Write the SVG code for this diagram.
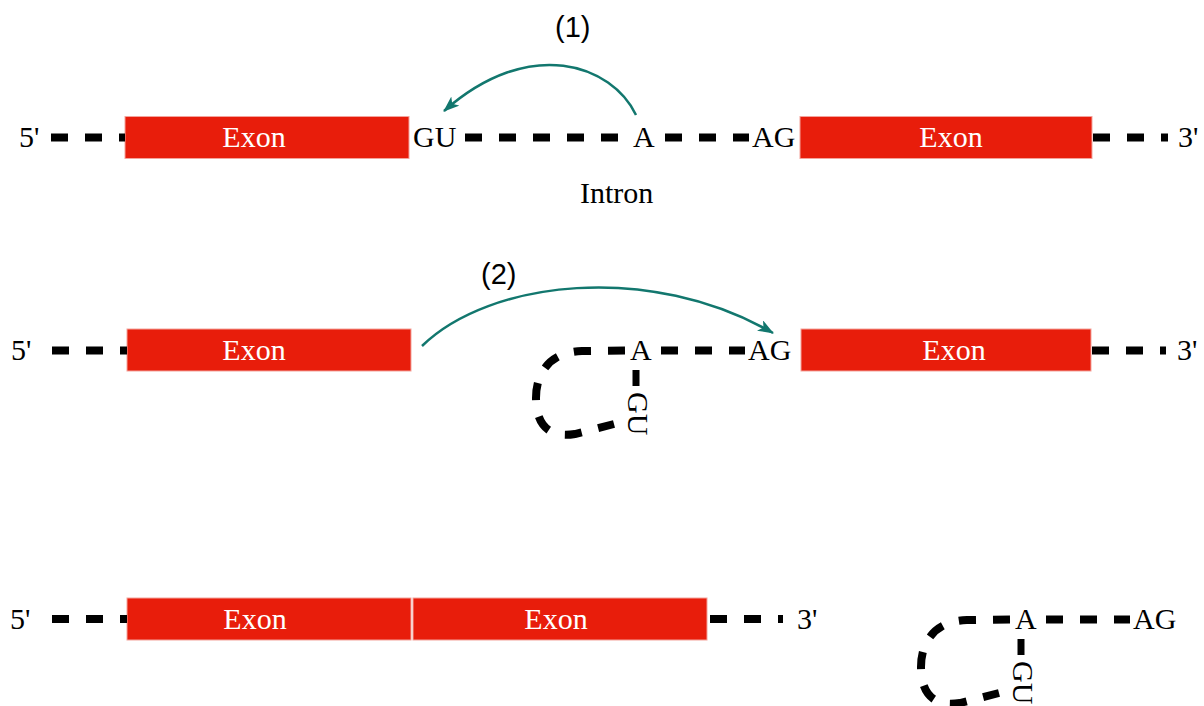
<svg xmlns="http://www.w3.org/2000/svg" width="1204" height="706" viewBox="0 0 1204 706">
<defs>
<style>
.exon{fill:#E81D0B;stroke:#F4A39C;stroke-width:1}
.ext{font-family:"Liberation Serif","Times New Roman",serif;font-size:30px;fill:#fff;text-anchor:middle}
.lbl{font-family:"Liberation Serif","Times New Roman",serif;font-size:30px;fill:#000}
.num{font-family:"Liberation Sans",Arial,sans-serif;font-size:29px;fill:#000}
.dash{stroke:#000;stroke-width:8;stroke-dasharray:17 17;fill:none}
.stem{stroke:#000;stroke-width:7;fill:none}
.arrow{stroke:#12776E;stroke-width:2.5;fill:none;marker-end:url(#ah)}
</style>
<marker id="ah" viewBox="0 0 16 12" refX="15" refY="6" markerWidth="16" markerHeight="12" markerUnits="userSpaceOnUse" orient="auto">
<path d="M0,0 L16,6 L0,12 L4,6 Z" fill="#12776E"/>
</marker>
</defs>
<rect width="1204" height="706" fill="#fff"/>

<!-- Row 1 -->
<g id="row1">
  <g id="r1-5p"><text class="lbl" x="19" y="147">5'</text></g>
  <g id="r1-exon1"><rect class="exon" x="125" y="116.5" width="284" height="42"/><text class="ext" x="254" y="147">Exon</text></g>
  <g id="r1-gu"><text class="lbl" x="413" y="147">GU</text></g>
  <g id="r1-a"><text class="lbl" x="633" y="147">A</text></g>
  <g id="r1-ag"><text class="lbl" x="752" y="147">AG</text></g>
  <g id="r1-exon2"><rect class="exon" x="800" y="116.5" width="292" height="42"/><text class="ext" x="951" y="147">Exon</text></g>
  <g id="r1-3p"><text class="lbl" x="1178" y="147">3'</text></g>
  <g id="r1-intron"><text class="lbl" x="580" y="203">Intron</text></g>
  <g id="r1-step"><text class="num" x="555" y="37">(1)</text></g>
</g>

<!-- Row 2 -->
<g id="row2">
  <g id="r2-5p"><text class="lbl" x="11" y="360">5'</text></g>
  <g id="r2-exon1"><rect class="exon" x="127" y="329" width="284" height="42"/><text class="ext" x="254" y="360">Exon</text></g>
  <g id="r2-lariat">
    <text class="lbl" x="630" y="360">A</text>
    <text class="lbl" x="748" y="360">AG</text>
    <text class="lbl" transform="translate(628,392) rotate(90)" x="0" y="0">GU</text>
  </g>
  <g id="r2-exon2"><rect class="exon" x="801" y="329" width="290" height="42"/><text class="ext" x="954" y="360">Exon</text></g>
  <g id="r2-3p"><text class="lbl" x="1177" y="360">3'</text></g>
  <g id="r2-step"><text class="num" x="481" y="284">(2)</text></g>
</g>

<!-- Row 3 -->
<g id="row3">
  <g id="r3-5p"><text class="lbl" x="10" y="629">5'</text></g>
  <g id="r3-exon1"><rect class="exon" x="127" y="598" width="284" height="42"/><text class="ext" x="255" y="629">Exon</text></g>
  <g id="r3-exon2"><rect class="exon" x="413" y="598" width="294" height="42"/><text class="ext" x="556" y="629">Exon</text></g>
  <g id="r3-3p"><text class="lbl" x="797" y="629">3'</text></g>
  <g id="r3-lariat" transform="translate(385,269)">
    <text class="lbl" x="630" y="360">A</text>
    <text class="lbl" x="748" y="360">AG</text>
    <text class="lbl" transform="translate(628,392) rotate(90)" x="0" y="0">GU</text>
  </g>
</g>

<!-- Connectors -->
<g id="connectors">
  <line class="dash" x1="51" y1="137.5" x2="125" y2="137.5"/>
  <line class="dash" x1="465" y1="137.5" x2="618" y2="137.5"/>
  <line class="dash" x1="665" y1="137.5" x2="749" y2="137.5"/>
  <line class="dash" x1="1093" y1="137.5" x2="1168" y2="137.5"/>

  <line class="dash" x1="52" y1="350.5" x2="127" y2="350.5"/>
  <line class="dash" x1="661" y1="350.5" x2="745" y2="350.5"/>
  <line class="dash" x1="1092" y1="350.5" x2="1166" y2="350.5"/>
  <path class="dash" d="M625 350.5 L582 351 C548 352 536 375 536 398 C536 428 552 438 575 434 L614 424"/>
  <line class="stem" x1="636" y1="370" x2="636" y2="386"/>

  <line class="dash" x1="52" y1="619" x2="127" y2="619"/>
  <line class="dash" x1="710" y1="619" x2="783" y2="619"/>
  <g transform="translate(385,269)">
    <line class="dash" x1="661" y1="350.5" x2="745" y2="350.5"/>
    <path class="dash" d="M625 350.5 L582 351 C548 352 536 375 536 398 C536 428 552 438 575 434 L614 424"/>
    <line class="stem" x1="636" y1="370" x2="636" y2="386"/>
  </g>

  <path class="arrow" d="M636 115 C612 65 530 35 444 111"/>
  <path class="arrow" d="M422 346 C490 280 650 262 773 333"/>
</g>
</svg>
